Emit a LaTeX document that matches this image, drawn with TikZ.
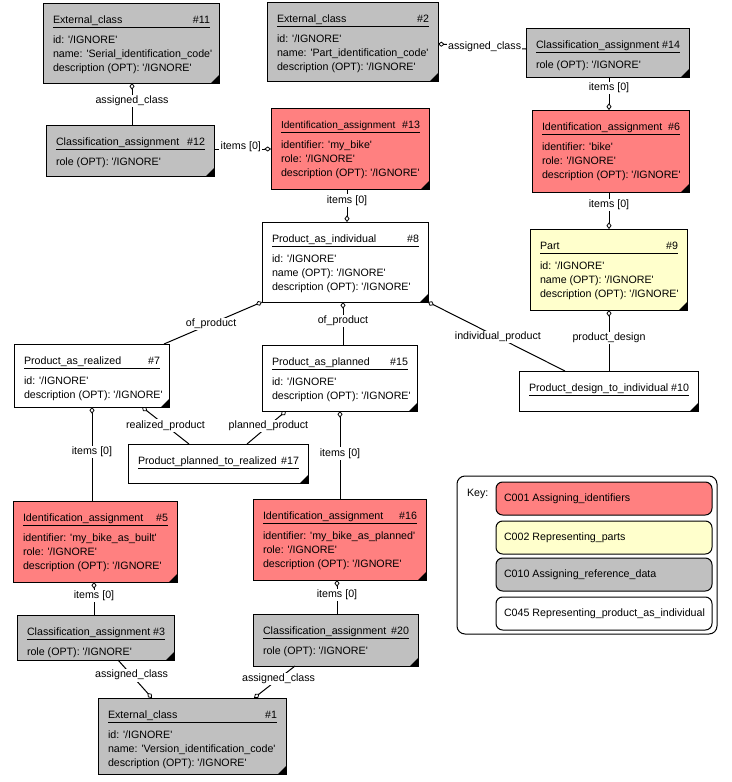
\documentclass[tikz,border=0pt]{standalone}
\usepackage{fontspec}
\setmainfont{Liberation Sans}[Ligatures=TeXOff]
\usetikzlibrary{arrows.meta}
\definecolor{cred}{HTML}{FF8080}
\definecolor{cyel}{HTML}{FFFFCC}
\definecolor{cgray}{HTML}{C0C0C0}
\tikzset{
  box/.style={draw,line width=0.75pt,inner sep=0pt,outer sep=0pt},
  txt/.style={inner sep=0pt,outer sep=0pt,font=\fontsize{8}{9.6}\selectfont},
  conn/.style={line width=0.75pt},
  dstart/.style={{Diamond[fill=white,length=5pt,width=3.8pt,line width=0.6pt]}-},
  dend/.style={-{Diamond[fill=white,length=5pt,width=3.8pt,line width=0.6pt]}},
  lbl/.style={fill=white,inner sep=1pt,font=\fontsize{8}{9.6}\selectfont},
  keyitem/.style={draw,line width=0.75pt,rounded corners=5pt,minimum height={33*0.75pt},
    minimum width={216*0.75pt},inner sep=0pt},
}
% name, x1, y1, x2, y2, style, title, number
\newcommand\ent[8]{%
  \node[box,#6,minimum width={(#4-#2)*0.75pt},minimum height={(#5-#3)*0.75pt}] (#1) at ({(#2+#4)/2},{(#3+#5)/2}) {};
  \fill (#4,#5) -- ({#4-8},#5) -- (#4,{#5-8}) -- cycle;
  \node[txt,anchor=base west] (#1t) at ({#2+10},{#3+20}) {#7};
  \node[txt,anchor=base east] (#1n) at ({#4-9},{#3+20}) {\##8};
  \draw[line width=0.75pt] ({#2+10},{#3+24}) -- ({#4-9},{#3+24});
}
% name, x1, y1, list of attribute lines
\newcommand\attrs[4]{%
  \foreach \t [count=\i] in {#4} {
    \node[txt,anchor=base west] (#1a\i) at ({#2+10},{#3+40+14*(\i-1)}) {\t};
  }
}
\begin{document}
\begin{tikzpicture}[x=0.75pt,y=-0.75pt]
\useasboundingbox (0,0) rectangle (732,782);

\ent{n11}{43}{3}{219}{83}{fill=cgray}{External\_class}{11}
\attrs{n11}{43}{3}{{id: '/IGNORE'},{name: 'Serial\_identification\_code'},{description (OPT): '/IGNORE'}}

\ent{n12}{46}{125}{214}{176}{fill=cgray}{Classification\_assignment}{12}
\attrs{n12}{46}{125}{{role (OPT): '/IGNORE'}}

\ent{n2}{267}{2}{438}{81}{fill=cgray}{External\_class}{2}
\attrs{n2}{267}{2}{{id: '/IGNORE'},{name: 'Part\_identification\_code'},{description (OPT): '/IGNORE'}}

\ent{n14}{526}{28}{689}{77}{fill=cgray}{Classification\_assignment}{14}
\attrs{n14}{526}{28}{{role (OPT): '/IGNORE'}}

\ent{n13}{271}{108}{429}{189}{fill=cred}{\fontsize{7.6}{9}\selectfont Identification\_assignment}{13}
\attrs{n13}{271}{108}{{identifier: 'my\_bike'},{role: '/IGNORE'},{description (OPT): '/IGNORE'}}

\ent{n6}{532}{110}{689}{192}{fill=cred}{Identification\_assignment}{6}
\attrs{n6}{532}{110}{{identifier: 'bike'},{role: '/IGNORE'},{description (OPT): '/IGNORE'}}

\ent{n8}{262}{222}{428}{302}{fill=white}{Product\_as\_individual}{8}
\attrs{n8}{262}{222}{{id: '/IGNORE'},{name (OPT): '/IGNORE'},{description (OPT): '/IGNORE'}}

\ent{n9}{530}{229}{687}{310}{fill=cyel}{Part}{9}
\attrs{n9}{530}{229}{{id: '/IGNORE'},{name (OPT): '/IGNORE'},{description (OPT): '/IGNORE'}}

\ent{n10}{519}{371}{698}{411}{fill=white}{Product\_design\_to\_individual}{10}

\ent{n7}{14}{344}{169}{407}{fill=white}{Product\_as\_realized}{7}
\attrs{n7}{14}{344}{{id: '/IGNORE'},{description (OPT): '/IGNORE'}}

\ent{n15}{262}{345}{417}{411}{fill=white}{Product\_as\_planned}{15}
\attrs{n15}{262}{345}{{id: '/IGNORE'},{description (OPT): '/IGNORE'}}

\ent{n17}{128}{444}{308}{483}{fill=white}{Product\_planned\_to\_realized}{17}

\ent{n5}{13}{501}{177}{582}{fill=cred}{Identification\_assignment}{5}
\attrs{n5}{13}{501}{{identifier: 'my\_bike\_as\_built'},{role: '/IGNORE'},{description (OPT): '/IGNORE'}}

\ent{n16}{253}{499}{426}{580}{fill=cred}{Identification\_assignment}{16}
\attrs{n16}{253}{499}{{identifier: 'my\_bike\_as\_planned'},{role: '/IGNORE'},{description (OPT): '/IGNORE'}}

\ent{n3}{17}{615}{174}{660}{fill=cgray}{Classification\_assignment}{3}
\attrs{n3}{17}{615}{{role (OPT): '/IGNORE'}}

\ent{n20}{253}{614}{418}{666}{fill=cgray}{Classification\_assignment}{20}
\attrs{n20}{253}{614}{{role (OPT): '/IGNORE'}}

\ent{n1}{98}{698}{286}{774}{fill=cgray}{External\_class}{1}
\attrs{n1}{98}{698}{{id: '/IGNORE'},{name: 'Version\_identification\_code'},{description (OPT): '/IGNORE'}}

% connectors
\draw[conn,dstart] (132,0 |- n11.south) -- (132,0 |- n12.north) node[lbl,pos=0.43] (c1) {assigned\_class};
\draw[conn,dstart] (n2.east |- 0,44) -- (n14.west |- 0,49) node[lbl,pos=0.53] (c2) {assigned\_class};
\draw[conn,dend] (n12.east |- 0,149) -- (n13.west |- 0,149) node[lbl,pos=0.47,yshift=1.5pt] (c3) {items [0]};
\draw[conn,dend] (609,0 |- n14.south) -- (609,0 |- n6.north) node[lbl,pos=0.33] (c4) {items [0]};
\draw[conn,dend] (347,0 |- n13.south) -- (347,0 |- n8.north) node[lbl,pos=0.35] (c5) {items [0]};
\draw[conn,dend] (609,0 |- n6.south) -- (609,0 |- n9.north) node[lbl,pos=0.35] (c6) {items [0]};
\draw[conn,dstart] (609,0 |- n9.south) -- (609,0 |- n10.north) node[lbl,pos=0.46] (c7) {product\_design};
\draw[conn,dstart] (n8.south east) -- (565,0 |- n10.north) node[lbl,pos=0.51] (c8) {individual\_product};
\draw[conn,dstart] (n8.south west) -- (164,0 |- n7.north) node[lbl,pos=0.52] (c9) {of\_product};
\draw[conn,dstart] (343,0 |- n8.south) -- (343,0 |- n15.north) node[lbl,pos=0.44] (c10) {of\_product};
\draw[conn,dstart] (142,0 |- n7.south) -- (189,0 |- n17.north) node[lbl,pos=0.5] (c11) {realized\_product};
\draw[conn,dstart] (286,0 |- n15.south) -- (247,0 |- n17.north) node[lbl,pos=0.45] (c12) {planned\_product};
\draw[conn,dstart] (92,0 |- n7.south) -- (92,0 |- n5.north) node[lbl,pos=0.48] (c13) {items [0]};
\draw[conn,dstart] (340,0 |- n15.south) -- (340,0 |- n16.north) node[lbl,pos=0.48] (c14) {items [0]};
\draw[conn,dstart] (94,0 |- n5.south) -- (94,0 |- n3.north) node[lbl,pos=0.42] (c15) {items [0]};
\draw[conn,dstart] (337,0 |- n16.south) -- (337,0 |- n20.north) node[lbl,pos=0.44] (c16) {items [0]};
\draw[conn,dend] (118,0 |- n3.south) -- (152,0 |- n1.north) node[lbl,pos=0.4] (c17) {assigned\_class};
\draw[conn,dend] (295,0 |- n20.south) -- (254,0 |- n1.north) node[lbl,pos=0.4] (c18) {assigned\_class};

% key
\node[draw,line width=0.75pt,rounded corners=6pt,minimum width={260*0.75pt},minimum height={158*0.75pt},inner sep=0pt] (key) at (587,555) {};
\node[txt,anchor=west] (keyt) at (467,494) {Key:};
\node[keyitem,fill=cred] (k1) at (604,498.5) {};
\node[keyitem,fill=cyel] (k2) at (604,537.5) {};
\node[keyitem,fill=cgray] (k3) at (604,574.5) {};
\node[keyitem,fill=white] (k4) at (604,613.5) {};
\node[txt,anchor=west] (k1t) at (504,498.5) {C001 Assigning\_identifiers};
\node[txt,anchor=west] (k2t) at (504,537.5) {C002 Representing\_parts};
\node[txt,anchor=west] (k3t) at (504,574.5) {C010 Assigning\_reference\_data};
\node[txt,anchor=west] (k4t) at (504,613.5) {C045 Representing\_product\_as\_individual};
\end{tikzpicture}
\end{document}
